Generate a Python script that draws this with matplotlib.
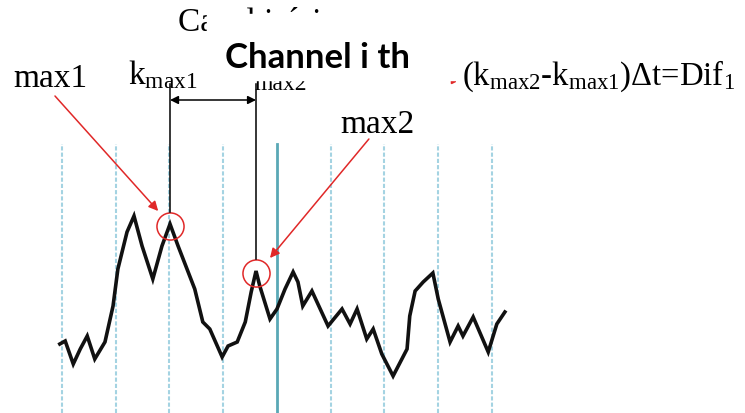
import matplotlib
matplotlib.use("Agg")
import matplotlib.pyplot as plt
import numpy as np

plt.rcParams['mathtext.fontset'] = 'custom'
plt.rcParams['mathtext.rm'] = 'Liberation Serif'
plt.rcParams['mathtext.it'] = 'Liberation Serif:italic'
plt.rcParams['mathtext.bf'] = 'Liberation Serif:bold'

# ---- data ----
sample_k = [-0.4, 0.6, 2.1, 3.4, 4.7, 6.1, 8.0, 9.5, 10.4, 12.1, 13.4, 14.9, 16.9,
            18.6, 20.1, 21.6, 24.7, 26.2, 27.5, 29.8, 30.9, 32.6, 34.1, 35.2, 36.1,
            36.8, 38.7, 40.0, 41.5, 43.0, 43.9, 44.8, 46.5, 49.5, 52.1, 53.6, 54.9,
            56.7, 57.9, 59.5, 61.6, 64.2, 64.7, 65.7, 67.2, 69.0, 70.0, 72.2, 73.7,
            74.6, 76.5, 79.3, 80.9, 82.4]
amplitude = [3.5, 3.8, 1.5, 3.0, 4.3, 2.0, 3.7, 7.3, 11.0, 14.7, 16.3, 13.3, 10.0,
             13.3, 15.5, 13.3, 9.0, 5.7, 5.0, 2.2, 3.3, 3.7, 5.7, 8.7, 10.8,
             9.3, 6.0, 7.0, 9.0, 10.7, 9.7, 7.3, 8.8, 5.3, 7.0, 5.5, 7.0,
             4.0, 5.0, 2.5, 0.3, 3.0, 6.3, 8.8, 9.7, 10.6, 8.0, 3.7, 5.3,
             4.3, 6.2, 2.7, 5.5, 6.7]
grid_k = [0, 10, 20, 30, 40, 50, 60, 70, 80]
k_max1, a_max1 = 20.1, 15.5
k_max2, a_max2 = 36.1, 10.8

fig = plt.figure(figsize=(7.45, 4.14), dpi=100)
ax = fig.add_axes([0, 0, 1, 1])
ax.set_xlim(-11.53, 127.07)
ax.set_ylim(-3.4, 38.0)
ax.axis('off')

# dashed vertical grid lines
for g in grid_k:
    if g == 40:
        ax.plot([g, g], [-3.4, 23.5], color='#5aa8b6', lw=2.0, zorder=1)
    else:
        ax.plot([g, g], [-3.4, 23.5], color='#a4d3e2', lw=1.5,
                linestyle=(0, (2.0, 1.0)), zorder=1)

# signal
ax.plot(sample_k, amplitude, color='#111111', lw=2.6, zorder=3,
        solid_joinstyle='miter')

# peak markers
for kk, aa in [(k_max1, a_max1), (k_max2, a_max2)]:
    ax.plot([kk], [aa - 0.2], marker='o', markersize=19.5, markerfacecolor='none',
            markeredgecolor='#e02828', markeredgewidth=1.1, zorder=4)
    ax.plot([kk, kk], [aa + 1.2, 29.5], color='black', lw=1.1, zorder=4)

# double arrow between the k's
ax.annotate('', xy=(k_max2, 27.9), xytext=(k_max1, 27.9),
            arrowprops=dict(arrowstyle='<|-|>', color='black', lw=1.1,
                            mutation_scale=12, shrinkA=0, shrinkB=0))

# red arrows
ax.annotate('', xy=(17.9, 16.8), xytext=(-1.3, 28.3),
            arrowprops=dict(arrowstyle='-|>', color='#e02828', lw=1.1,
                            mutation_scale=14, shrinkA=0, shrinkB=0))
ax.annotate('', xy=(38.7, 12.1), xytext=(57.1, 24.0),
            arrowprops=dict(arrowstyle='-|>', color='#e02828', lw=1.1,
                            mutation_scale=14, shrinkA=0, shrinkB=0))

serif = 'Liberation Serif'
fs = 24

ax.text(-9.1, 29.3, 'max1', fontsize=fs, family=serif, va='baseline', ha='left')
ax.text(12.3, 29.6, r'$\mathrm{k}_{\mathrm{max1}}$', fontsize=fs, va='baseline', ha='left')
# only the (partly hidden) subscript of k_max2 shows below the title box
ax.text(35.9, 29.0, 'max2', fontsize=17, family=serif, va='baseline', ha='left')
ax.text(51.7, 24.7, 'max2', fontsize=fs, family=serif, va='baseline', ha='left')
ax.text(21.6, 34.9, 'Canal i-ésimo', fontsize=fs, family=serif, va='baseline', ha='left')
ax.text(74.4, 29.5, r'$(\mathrm{k}_{\mathrm{max2}}$-$\mathrm{k}_{\mathrm{max1}})\Delta\mathrm{t}$=Dif$_1$',
        fontsize=23.5, family=serif, va='baseline', ha='left')
ax.plot([72.8], [29.8], marker='>', markersize=3, color='#e02828', zorder=5)

# white box with overlaid title
ax.fill_between([27.0, 73.2], [29.9, 29.9], [36.5, 36.5], color='white', zorder=6)
ax.text(47.6, 31.2, 'Channel i th', fontsize=25, family='Lato', fontweight='bold',
        va='baseline', ha='center', zorder=7)

fig.savefig('out.png', dpi=100)
